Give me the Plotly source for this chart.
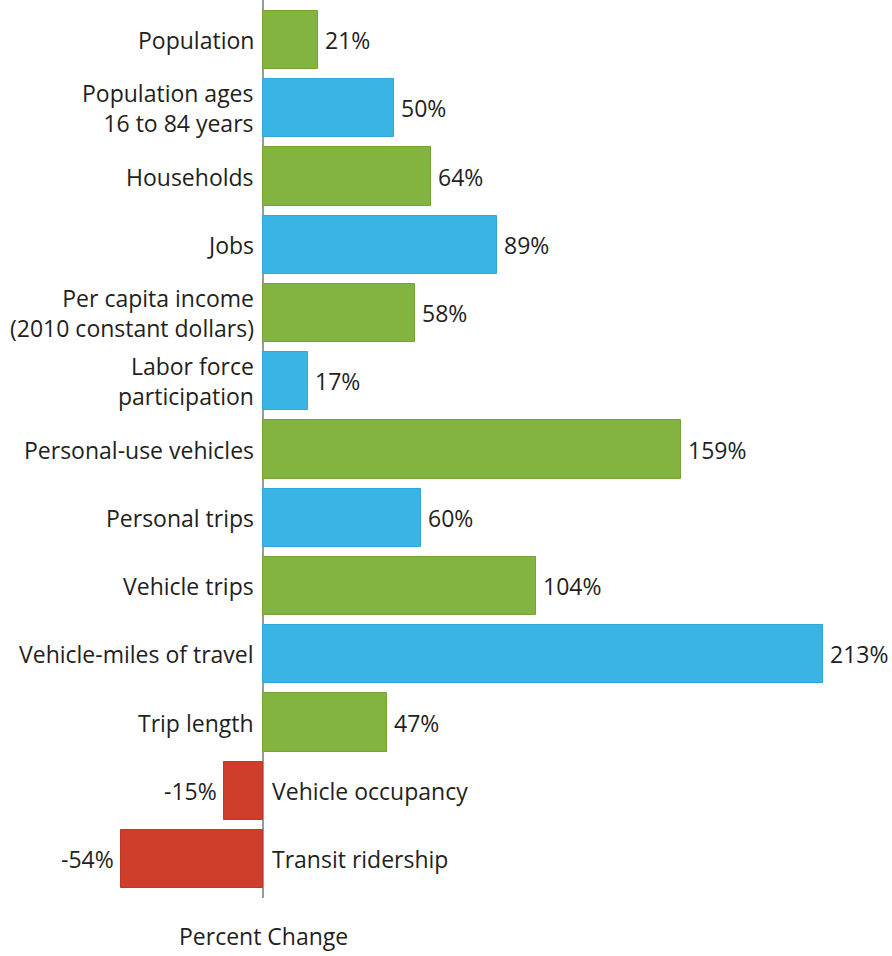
import plotly.graph_objects as go

categories = [
    "Population",
    "Population ages<br>16 to 84 years",
    "Households",
    "Jobs",
    "Per capita income<br>(2010 constant dollars)",
    "Labor force<br>participation",
    "Personal-use vehicles",
    "Personal trips",
    "Vehicle trips",
    "Vehicle-miles of travel",
    "Trip length",
    "Vehicle occupancy",
    "Transit ridership",
]
values = [21, 50, 64, 89, 58, 17, 159, 60, 104, 213, 47, -15, -54]

GREEN = "#84b440"
BLUE = "#39b4e4"
RED = "#cf3e2b"
EDGE = {GREEN: "#74a336", BLUE: "#2ea6d6", RED: "#c0382a"}

colors = []
for i, v in enumerate(values):
    if v < 0:
        colors.append(RED)
    else:
        colors.append(GREEN if i % 2 == 0 else BLUE)

FONT = "Open Sans"
TXT = "#231f20"
FS = 23

fig = go.Figure()
fig.add_trace(go.Bar(
    x=values,
    y=list(range(len(values))),
    orientation="h",
    width=0.85,
    marker=dict(color=colors, line=dict(color=[EDGE[c] for c in colors], width=1)),
    hoverinfo="skip",
))

annotations = []
for i, (cat, v) in enumerate(zip(categories, values)):
    annotations.append(dict(
        x=0, y=i, xref="x", yref="y", text=cat, showarrow=False,
        xanchor="right" if v >= 0 else "left",
        xshift=-7 if v >= 0 else 7,
        align="right" if v >= 0 else "left",
        font=dict(family=FONT, size=FS, color=TXT),
    ))
    annotations.append(dict(
        x=v, y=i, xref="x", yref="y", text=f"{v}%", showarrow=False,
        xanchor="left" if v >= 0 else "right",
        xshift=5 if v >= 0 else -5,
        font=dict(family=FONT, size=FS, color=TXT),
    ))

annotations.append(dict(
    x=263 / 892, y=0, xref="paper", yref="paper", text="Percent Change",
    showarrow=False, xanchor="center", yanchor="bottom", yshift=-(956 - 898) + 2,
    font=dict(family=FONT, size=FS, color=TXT),
))

pxu = 560 / 213.0
fig.update_layout(
    width=892, height=956,
    margin=dict(l=0, r=0, t=0, b=58),
    paper_bgcolor="white", plot_bgcolor="white",
    showlegend=False,
    bargap=0,
    xaxis=dict(range=[-263 / pxu, (892 - 263) / pxu], showgrid=False, showticklabels=False,
               zeroline=True, zerolinecolor="#9a9a9a", zerolinewidth=2, fixedrange=True),
    yaxis=dict(range=[(898 - 40) / 68.25, -40 / 68.25], showgrid=False, showticklabels=False,
               zeroline=False, fixedrange=True),
    annotations=annotations,
)

fig.write_html("out.html")
